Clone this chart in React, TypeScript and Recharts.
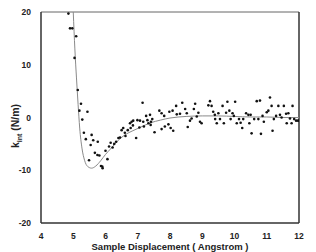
import {
  ComposedChart,
  Line,
  Scatter,
  XAxis,
  YAxis,
  ReferenceLine,
} from "recharts";

// measured interaction stiffness, [displacement Å, k N/m]
const measuredPoints: [number, number][] = [
  [4.85, 19.7], [4.9, 16.9], [4.97, 16.9], [5.04, 11.3], [5.09, 15.4],
  [5.14, 5.2], [5.19, 1.3], [5.24, 2.6], [5.28, -0.4], [5.44, 1.1],
  [5.33, -2.9], [5.39, -4.1], [5.49, -8.1], [5.54, -5.2], [5.57, -3.3],
  [5.62, -4.3], [5.67, -6.7], [5.75, -7.1], [5.76, -4.6], [5.81, -7.2],
  [5.86, -9.2], [5.9, -9.3], [5.91, -9.6], [6.0, -6.3], [6.06, -7.9],
  [6.11, -5.5], [6.16, -4.8], [6.22, -5.7], [6.27, -5.0], [6.33, -4.6],
  [6.4, -3.9], [6.45, -3.8], [6.5, -2.4], [6.55, -2.0], [6.6, -2.9],
  [6.62, -3.5], [6.69, -2.4], [6.76, -1.1], [6.78, -2.0], [6.81, -0.8],
  [6.85, -1.5], [6.86, -0.6], [6.95, -3.9], [6.99, -0.5], [7.05, -1.9],
  [7.07, -0.6], [7.15, 2.8], [7.17, -0.8], [7.19, -1.7], [7.26, 0.3],
  [7.3, -0.5], [7.33, -1.1], [7.38, 0.5], [7.4, -1.4], [7.41, -0.8],
  [7.45, -0.3], [7.52, -2.8], [7.67, 1.3], [7.74, 0.8], [7.74, -2.2],
  [7.82, 0.3], [7.84, -1.7], [7.95, -1.3], [7.98, 1.1], [8.02, -2.0],
  [8.08, 1.3], [8.1, -2.5], [8.19, 2.2], [8.21, 0.6], [8.31, 0.7],
  [8.38, 2.8], [8.47, 1.6], [8.52, 0.8], [8.55, -1.8], [8.62, -0.6],
  [8.67, -0.2], [8.74, 1.6], [8.78, 2.6], [8.83, 0.2], [8.88, 0.9],
  [8.93, -0.8], [8.98, -1.1], [9.19, 2.3], [9.24, 3.1], [9.29, 2.2],
  [9.34, 1.1], [9.39, 0.5], [9.4, -0.3], [9.45, -1.1], [9.5, 0.8],
  [9.55, -0.3], [9.63, 2.2], [9.67, -1.1], [9.74, 0.9], [9.78, 3.0],
  [9.84, 1.3], [9.88, -0.3], [9.94, 0.8], [9.98, 0.3], [10.02, 3.0],
  [10.07, -1.1], [10.14, -0.3], [10.19, -1.0], [10.24, -2.0], [10.27, -0.3],
  [10.36, 0.8], [10.43, 0.5], [10.46, -1.1], [10.5, 0.5], [10.53, -3.0],
  [10.61, -0.3], [10.69, 3.1], [10.74, -0.3], [10.79, 3.2], [10.82, -3.1],
  [10.87, 0.3], [10.91, -0.8], [11.0, 1.0], [11.05, 1.3], [11.1, 3.8],
  [11.15, 2.2], [11.18, -2.5], [11.22, -0.3], [11.29, 0.3], [11.36, 2.2],
  [11.41, 0.5], [11.46, 0.0], [11.53, 2.2], [11.6, 0.7], [11.62, -1.1],
  [11.67, 0.8], [11.72, -0.2], [11.77, -1.1], [11.8, 2.2], [11.85, -0.3],
  [11.91, -0.6], [11.97, -0.6], [12.0, -0.6],
];

// fitted potential curve
const fitCurve: [number, number][] = [
  [5.0, 20], [5.05, 13], [5.1, 7.5], [5.15, 2.5], [5.2, -2], [5.27, -5.8],
  [5.35, -8.1], [5.45, -9.3], [5.57, -9.6], [5.7, -9.2], [5.85, -8.2],
  [6.0, -7.0], [6.15, -6.0], [6.4, -4.3], [6.6, -3.3], [6.85, -2.5],
  [7.1, -1.8], [7.4, -1.0], [7.7, -0.5], [8.0, -0.1], [8.5, 0.2],
  [9.0, 0.3], [9.5, 0.3], [10.0, 0.2], [10.5, 0.1], [11.0, 0.1],
  [11.5, 0.0], [12.0, 0.0],
];

const xTicks = [4, 5, 6, 7, 8, 9, 10, 11, 12];
const yTicks = [-20, -10, 0, 10, 20];

const font = "'Liberation Sans', Arial, sans-serif";
const tickStyle = { fontSize: 8.5, fontWeight: 700, fill: "#222", fontFamily: font };

const YTitle = () => (
  <text
    transform="translate(19, 126) rotate(-90)"
    textAnchor="middle"
    fontFamily={font}
    fontWeight={700}
    fontSize={10.5}
    fill="#222"
  >
    k
    <tspan fontSize={7} dy={3}>int</tspan>
    <tspan dy={-3}> (N/m)</tspan>
  </text>
);

export default function App() {
  const points = measuredPoints.map(([x, y]) => ({ x, y }));
  const curve = fitCurve.map(([x, y]) => ({ x, y }));

  return (
    <div style={{ position: "absolute", left: 0, top: 0, background: "#fff" }}>
      <ComposedChart
        width={316}
        height={252}
        margin={{ top: 12, right: 17, bottom: 0, left: 0 }}
      >
        <XAxis
          type="number"
          dataKey="x"
          domain={[4, 12]}
          ticks={xTicks}
          allowDataOverflow
          tickLine={false}
          stroke="#333"
          strokeWidth={1.5}
          tick={tickStyle}
          tickMargin={4}
          height={29}
          label={{
            value: "Sample Displacement ( Angstrom )",
            position: "insideBottom",
            offset: 2,
            style: { fontSize: 9.5, fontWeight: 700, fill: "#222", fontFamily: font },
          }}
        />
        <YAxis
          type="number"
          dataKey="y"
          domain={[-20, 20]}
          ticks={yTicks}
          allowDataOverflow
          tickLine={false}
          stroke="#333"
          strokeWidth={1.5}
          tick={tickStyle}
          tickMargin={4}
          width={41}
          label={<YTitle />}
        />
        <ReferenceLine y={20} stroke="#666" strokeWidth={1} />
        <ReferenceLine x={12} stroke="#333" strokeWidth={1.5} />
        <Line
          data={curve}
          dataKey="y"
          type="monotone"
          stroke="#8a8a8a"
          strokeWidth={1}
          dot={false}
          isAnimationActive={false}
        />
        <Scatter
          data={points}
          dataKey="y"
          isAnimationActive={false}
          shape={(p: any) => <circle cx={p.cx} cy={p.cy} r={1.3} fill="#111" />}
        />
      </ComposedChart>
    </div>
  );
}
